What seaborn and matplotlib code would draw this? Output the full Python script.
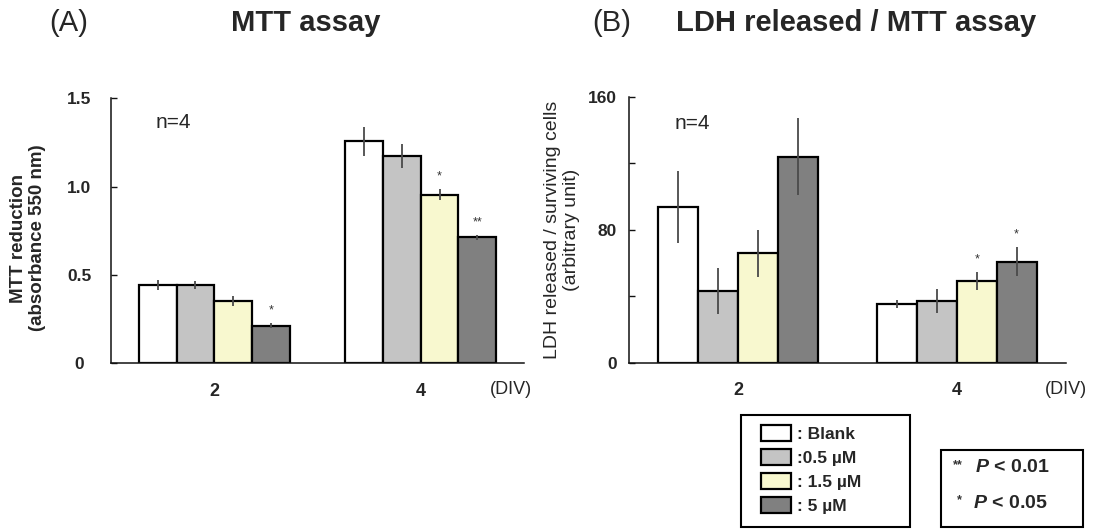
import matplotlib
matplotlib.use("Agg")
import matplotlib.pyplot as plt
import seaborn as sns
import pandas as pd
from matplotlib.patches import Patch, Rectangle
from matplotlib.container import BarContainer

# ---------------- data ----------------
days = ["2", "4"]
treatments = ["Blank", "0.5 µM", "1.5 µM", "5 µM"]
legend_labels = [": Blank", ":0.5 µM", ": 1.5 µM", ": 5 µM"]
colors = ["#ffffff", "#c4c4c4", "#f8f8cf", "#808080"]

mtt_div2 = [0.443, 0.443, 0.352, 0.212]
mtt_div4 = [1.257, 1.172, 0.955, 0.714]
mtt_err_div2 = [0.030, 0.025, 0.030, 0.015]
mtt_err_div4 = [0.083, 0.067, 0.030, 0.015]
mtt_sig_div2 = ["", "", "", "*"]
mtt_sig_div4 = ["", "", "*", "**"]

ldh_div2 = [93.8, 43.1, 65.8, 123.9]
ldh_div4 = [35.3, 37.1, 49.1, 60.8]
ldh_err_div2 = [21.8, 13.8, 14.3, 23.3]
ldh_err_div4 = [2.5, 7.1, 5.4, 8.8]
ldh_sig_div2 = ["", "", "", ""]
ldh_sig_div4 = ["", "", "*", "*"]

mtt_yticks = [0, 0.5, 1.0, 1.5]
mtt_yticklabels = ["0", "0.5", "1.0", "1.5"]
ldh_yticks = [0, 40, 80, 120, 160]
ldh_yticklabels = ["0", "", "80", "", "160"]

# ---------------- style ----------------
sns.set_style("white")
plt.rcParams["font.family"] = ["Liberation Sans", "DejaVu Sans"]
plt.rcParams["mathtext.fontset"] = "custom"
plt.rcParams["mathtext.rm"] = "Liberation Sans"
plt.rcParams["mathtext.it"] = "Liberation Sans:italic"
plt.rcParams["mathtext.bf"] = "Liberation Sans:bold"
plt.rcParams["mathtext.bfit"] = "Liberation Sans:italic:bold"

W, H = 1096, 529
fig = plt.figure(figsize=(W / 100, H / 100), dpi=100)
fig.patch.set_facecolor("white")


def fx(px):
    return px / W


def fy(py):
    return 1 - py / H


ax1 = fig.add_axes([fx(111), fy(363.3), fx(524) - fx(111), (363.3 - 98.3) / H])
ax2 = fig.add_axes([fx(629), fy(362.7), fx(1066) - fx(629), (362.7 - 96.7) / H])


def make_df(v2, v4):
    rows = []
    for d, vals in zip(days, [v2, v4]):
        for t, v in zip(treatments, vals):
            rows.append({"day": d, "treatment": t, "value": v})
    return pd.DataFrame(rows)


def panel(ax, v2, v4, e2, e4, s2, s4, ylim, yticks, yticklabels):
    df = make_df(v2, v4)
    sns.barplot(data=df, x="day", y="value", hue="treatment", order=days,
                hue_order=treatments, palette=colors, saturation=1,
                edgecolor="black", linewidth=1.6, width=0.73,
                errorbar=None, legend=False, ax=ax, zorder=2)
    errs = [[e2[h], e4[h]] for h in range(len(treatments))]
    sigs = [[s2[h], s4[h]] for h in range(len(treatments))]
    bar_conts = [c for c in ax.containers if isinstance(c, BarContainer)]
    for h, cont in enumerate(bar_conts):
        for i, bar in enumerate(cont):
            xc = bar.get_x() + bar.get_width() / 2
            yv = bar.get_height()
            ax.errorbar([xc], [yv], yerr=[errs[h][i]], fmt="none",
                        ecolor="#4a4a4a", elinewidth=1.3, capsize=0, zorder=3)
            if sigs[h][i]:
                ax.annotate(sigs[h][i], (xc, yv + errs[h][i]),
                            xytext=(0, 9), textcoords="offset points",
                            ha="center", va="center", fontsize=9,
                            color="#333333")
    ax.set_xlim(-0.5, 1.5)
    ax.set_ylim(*ylim)
    ax.set_yticks(yticks)
    ax.set_yticklabels(yticklabels)
    ax.set_xlabel("")
    ax.set_ylabel("")
    for s in ["top", "right"]:
        ax.spines[s].set_visible(False)
    for s in ["left", "bottom"]:
        ax.spines[s].set_color("#111111")
        ax.spines[s].set_linewidth(1.1)
    ax.tick_params(axis="x", length=0, pad=14, labelsize=13)
    ax.tick_params(axis="y", direction="in", length=4, width=1.0,
                   labelsize=12.5, color="#111111", left=True)
    for lbl in ax.get_xticklabels() + ax.get_yticklabels():
        lbl.set_fontweight("bold")
    ax.set_facecolor("white")
    ax.grid(False)


panel(ax1, mtt_div2, mtt_div4, mtt_err_div2, mtt_err_div4,
      mtt_sig_div2, mtt_sig_div4, (0, 1.5), mtt_yticks, mtt_yticklabels)
panel(ax2, ldh_div2, ldh_div4, ldh_err_div2, ldh_err_div4,
      ldh_sig_div2, ldh_sig_div4, (0, 160), ldh_yticks, ldh_yticklabels)

# left panel tick labels centred
ax1.tick_params(axis="y", pad=23)
for lbl in ax1.get_yticklabels():
    lbl.set_horizontalalignment("center")
ax2.tick_params(axis="y", pad=9)

# n=4
ax1.text(0.150, 0.907, "n=4", transform=ax1.transAxes, ha="center",
         va="center", fontsize=15)
ax2.text(0.146, 0.901, "n=4", transform=ax2.transAxes, ha="center",
         va="center", fontsize=15)

# (DIV)
fig.text(fx(511), fy(390), "(DIV)", ha="center", va="center", fontsize=13)
fig.text(fx(1066), fy(390), "(DIV)", ha="center", va="center", fontsize=13)

# y labels
fig.text(fx(28), fy(238), "MTT reduction\n(absorbance 550 nm)", rotation=90,
         ha="center", va="center", fontsize=13.5, fontweight="bold",
         multialignment="center", linespacing=1.15)
fig.text(fx(562), fy(230), "LDH released / surviving cells\n(arbitrary unit)",
         rotation=90, ha="center", va="center", fontsize=14,
         multialignment="center", linespacing=1.1)

# titles
fig.text(fx(69), fy(23), "(A)", ha="center", va="center", fontsize=21)
fig.text(fx(306), fy(23), "MTT assay", ha="center", va="center",
         fontsize=21, fontweight="bold")
fig.text(fx(612), fy(23), "(B)", ha="center", va="center", fontsize=21)
fig.text(fx(856), fy(23), "LDH released / MTT assay", ha="center",
         va="center", fontsize=21, fontweight="bold")

# legend (treatments)
handles = [Patch(facecolor=c, edgecolor="black", linewidth=1.6) for c in colors]
fig.legend(handles, legend_labels, loc="upper left",
           bbox_to_anchor=(fx(761), fy(425)), frameon=False,
           prop={"size": 12.5, "weight": "bold"}, handlelength=1.75,
           handleheight=1.0, handletextpad=0.3, labelspacing=0.42,
           borderpad=0, borderaxespad=0)
fig.add_artist(Rectangle((fx(741), fy(527)), fx(910) - fx(741),
                         (527 - 415) / H, transform=fig.transFigure,
                         fill=False, edgecolor="black", linewidth=1.5))

# significance box
fig.add_artist(Rectangle((fx(941), fy(527)), fx(1083) - fx(941),
                         (527 - 450) / H, transform=fig.transFigure,
                         fill=False, edgecolor="black", linewidth=1.5))
fig.text(fx(953), fy(465), "**", ha="left", va="center", fontsize=9,
         fontweight="bold", color="#333333")
fig.text(fx(975), fy(468), r"$\mathbfit{P}$ < 0.01", ha="left", va="center",
         fontsize=14, fontweight="bold")
fig.text(fx(957), fy(500), "*", ha="left", va="center", fontsize=9,
         fontweight="bold", color="#333333")
fig.text(fx(973), fy(503), r"$\mathbfit{P}$ < 0.05", ha="left", va="center",
         fontsize=14, fontweight="bold")

fig.savefig("out.png", dpi=100, facecolor="white")
